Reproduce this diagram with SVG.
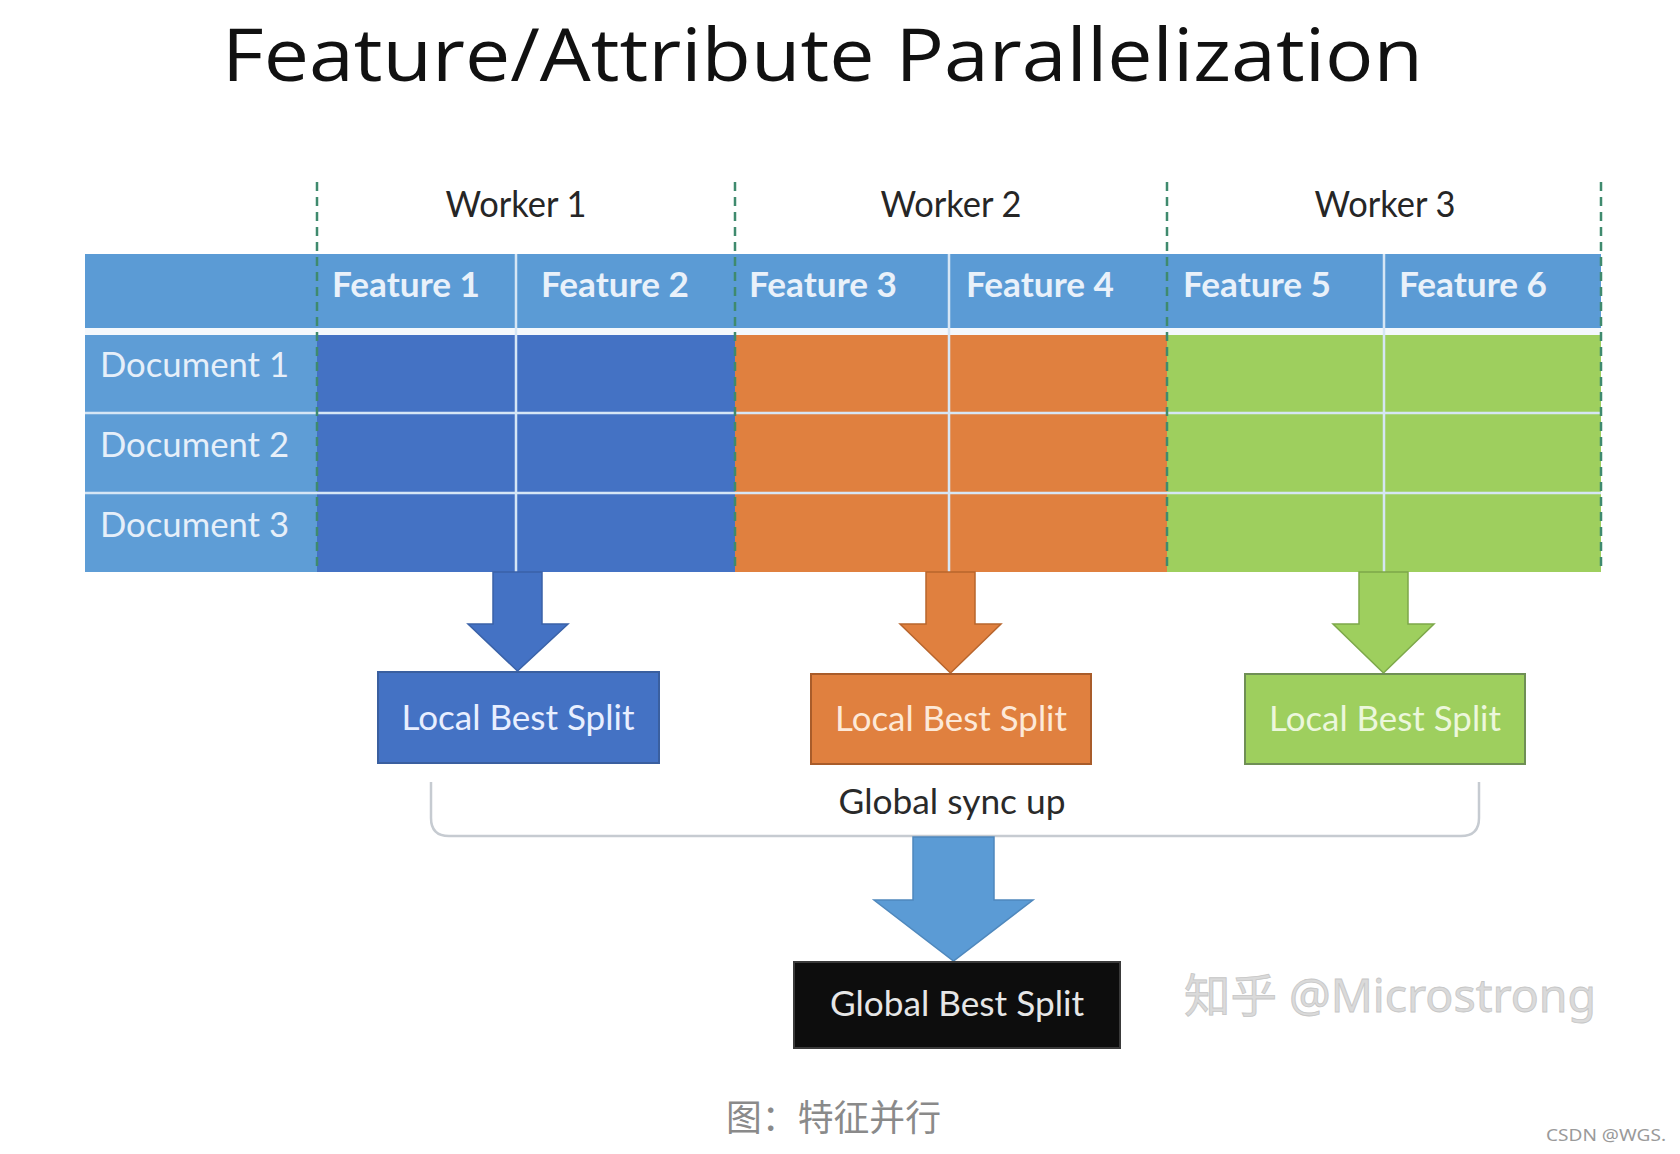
<svg xmlns="http://www.w3.org/2000/svg" width="1680" height="1154" viewBox="0 0 1680 1154">
<style>
.sans{font-family:Lato,"Open Sans","Liberation Sans",sans-serif}
.worker{font-size:36px;fill:#262626;text-anchor:middle}
.feat{font-size:34px;font-weight:700;fill:#e9f1fa}
.doc{font-size:35px;fill:#e6eff9}
.lbs{font-size:35px;text-anchor:middle}
.grid{stroke:#d6e6f5;stroke-width:2.5}
.dash{stroke:#3f8a6e;stroke-width:2.5;stroke-dasharray:9 6;fill:none}
</style>
<rect width="1680" height="1154" fill="#ffffff"/>

<g id="title">
<text x="222" y="81" font-family="'Open Sans','Liberation Sans',sans-serif" font-size="74" fill="#111111" textLength="1201" lengthAdjust="spacingAndGlyphs">Feature/Attribute Parallelization</text>
</g>

<g id="workers" class="sans">
<text class="worker" x="516" y="217" textLength="141" lengthAdjust="spacingAndGlyphs">Worker 1</text>
<text class="worker" x="951" y="217" textLength="141" lengthAdjust="spacingAndGlyphs">Worker 2</text>
<text class="worker" x="1385" y="217" textLength="141" lengthAdjust="spacingAndGlyphs">Worker 3</text>
</g>

<g id="table">
<rect x="85" y="254" width="1516" height="74" fill="#5b9bd5"/>
<rect x="85" y="335" width="232" height="237" fill="#5e9dd6"/>
<rect x="317" y="335" width="418" height="237" fill="#4472c4"/>
<rect x="735" y="335" width="432" height="237" fill="#e0803f"/>
<rect x="1167" y="335" width="434" height="237" fill="#9ecf5e"/>
<rect x="85" y="328" width="1516" height="7" fill="#f4f8fc"/>
<line class="grid" x1="85" y1="413" x2="1601" y2="413"/>
<line class="grid" x1="85" y1="493" x2="1601" y2="493"/>
<line class="grid" x1="516" y1="254" x2="516" y2="572"/>
<line class="grid" x1="949" y1="254" x2="949" y2="572"/>
<line class="grid" x1="1384" y1="254" x2="1384" y2="572"/>
<g class="sans">
<text class="feat" x="332" y="297" textLength="148" lengthAdjust="spacingAndGlyphs">Feature 1</text>
<text class="feat" x="541" y="297" textLength="148" lengthAdjust="spacingAndGlyphs">Feature 2</text>
<text class="feat" x="749" y="297" textLength="148" lengthAdjust="spacingAndGlyphs">Feature 3</text>
<text class="feat" x="966" y="297" textLength="148" lengthAdjust="spacingAndGlyphs">Feature 4</text>
<text class="feat" x="1183" y="297" textLength="148" lengthAdjust="spacingAndGlyphs">Feature 5</text>
<text class="feat" x="1399" y="297" textLength="148" lengthAdjust="spacingAndGlyphs">Feature 6</text>
<text class="doc" x="100" y="377" textLength="189" lengthAdjust="spacingAndGlyphs">Document 1</text>
<text class="doc" x="100" y="457" textLength="189" lengthAdjust="spacingAndGlyphs">Document 2</text>
<text class="doc" x="100" y="537" textLength="189" lengthAdjust="spacingAndGlyphs">Document 3</text>
</g>
<line class="dash" x1="317" y1="182" x2="317" y2="572"/>
<line class="dash" x1="735" y1="182" x2="735" y2="572"/>
<line class="dash" x1="1167" y1="182" x2="1167" y2="572"/>
<line class="dash" x1="1601" y1="182" x2="1601" y2="572"/>
</g>

<g id="connectors">
<path d="M493,572 H542 V624 H568 L517.5,671 L468,624 H493 Z" fill="#4472c4" stroke="#3a62a8" stroke-width="1.5"/>
<path d="M926,572 H975 V624 H1001 L950.5,673 L900,624 H926 Z" fill="#e0803f" stroke="#b8652d" stroke-width="1.5"/>
<path d="M1359,572 H1408 V624 H1434 L1383.5,673 L1333,624 H1359 Z" fill="#9ecf5e" stroke="#7da84a" stroke-width="1.5"/>
<path d="M431,782 V818 Q431,836 449,836 H1461 Q1479,836 1479,818 V782" fill="none" stroke="#c6cbd1" stroke-width="2.5"/>
<path d="M913,837 H994 V900 H1033 L953.5,961 L874,900 H913 Z" fill="#5b9bd5" stroke="#4f88bd" stroke-width="1.5"/>
</g>

<g id="local-split-1" class="sans">
<rect x="378" y="672" width="281" height="91" fill="#4472c4" stroke="#3a5f9f" stroke-width="2"/>
<text class="lbs" x="518" y="730" fill="#e8efff" textLength="233" lengthAdjust="spacingAndGlyphs">Local Best Split</text>
</g>
<g id="local-split-2" class="sans">
<rect x="811" y="674" width="280" height="90" fill="#e0803f" stroke="#a95c2a" stroke-width="2"/>
<text class="lbs" x="951" y="731" fill="#fde9d8" textLength="232" lengthAdjust="spacingAndGlyphs">Local Best Split</text>
</g>
<g id="local-split-3" class="sans">
<rect x="1245" y="674" width="280" height="90" fill="#9ecf5e" stroke="#6f8f55" stroke-width="2"/>
<text class="lbs" x="1385" y="731" fill="#ecf7dc" textLength="232" lengthAdjust="spacingAndGlyphs">Local Best Split</text>
</g>

<g id="global-sync-label" class="sans">
<text x="952" y="814" font-size="35" fill="#2a2a2a" text-anchor="middle" textLength="227" lengthAdjust="spacingAndGlyphs">Global sync up</text>
</g>

<g id="global-split" class="sans">
<rect x="794" y="962" width="326" height="86" fill="#0d0d0d" stroke="#3a3a3a" stroke-width="2"/>
<text x="957" y="1016" font-size="35" fill="#e6e6e6" text-anchor="middle" textLength="254" lengthAdjust="spacingAndGlyphs">Global Best Split</text>
</g>

<g id="watermark">
<text x="1184" y="1012" font-family="'Noto Sans','Noto Sans CJK SC',sans-serif" font-size="46" fill="#dadada" stroke="#c6c6c6" stroke-width="0.8" textLength="412" lengthAdjust="spacingAndGlyphs">知乎 @Microstrong</text>
</g>

<g id="caption">
<text x="726" y="1131" font-family="'Noto Sans CJK SC',sans-serif" font-size="36" fill="#8a8a8a" textLength="215" lengthAdjust="spacingAndGlyphs">图：特征并行</text>
<text x="1546" y="1141" font-family="'Noto Sans','Liberation Sans',sans-serif" font-size="17" fill="#9a9a9a" textLength="120" lengthAdjust="spacingAndGlyphs">CSDN @WGS.</text>
</g>
</svg>
